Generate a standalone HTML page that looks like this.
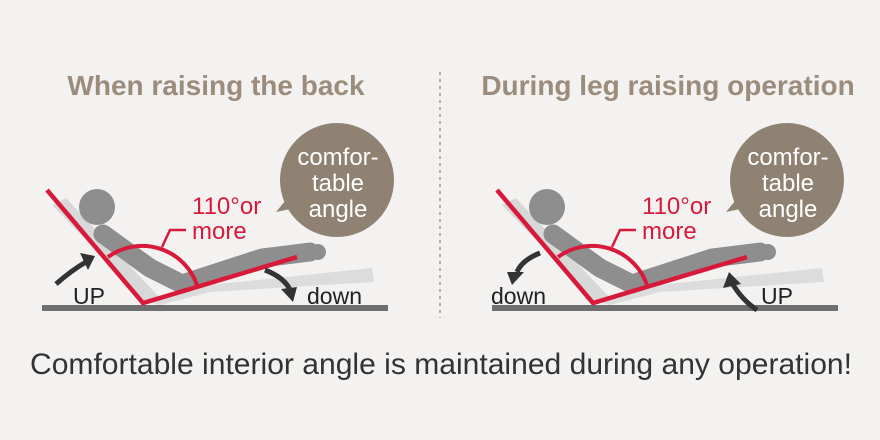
<!DOCTYPE html>
<html><head><meta charset="utf-8"><style>
html,body{margin:0;padding:0;background:#f3f2f1;}
svg{display:block;font-family:"Liberation Sans",Arial,sans-serif;}
</style></head><body>
<svg width="880" height="440" viewBox="0 0 880 440">
<rect width="880" height="440" fill="#f3f2f1"/>
<text x="216" y="95" font-size="28" font-weight="bold" fill="#9c8c7c" text-anchor="middle">When raising the back</text>
<text x="668" y="95" font-size="28" font-weight="bold" fill="#9c8c7c" text-anchor="middle">During leg raising operation</text>
<line x1="440" y1="72" x2="440" y2="318" stroke="#999" stroke-width="1.5" stroke-dasharray="3,4"/>
<defs>
<g id="fig">
  <rect x="42" y="305" width="346" height="6" fill="#6e6e6e"/>
  <polygon points="52,205 66,198 160,298 146,302" fill="#d8d8d8"/>
  <polygon points="150,302 200,286 372,268 374,282 210,292 160,305" fill="#dcdcdc"/>
  <circle cx="97" cy="207" r="18" fill="#8e8e8e"/>
  <path d="M103,234 L150,268 L182,284 L262,258 L310,252" fill="none" stroke="#8e8e8e" stroke-width="19" stroke-linecap="round" stroke-linejoin="round"/>
  <circle cx="318" cy="252" r="8" fill="#8e8e8e"/>
  <path d="M108,257 A58,58 0 0 1 197,285" fill="none" stroke="#d81a3a" stroke-width="4"/>
  <polyline points="162,247 170,230 186,230" fill="none" stroke="#d81a3a" stroke-width="2.5"/>
  <polyline points="47,190 143,303 297,257" fill="none" stroke="#d81a3a" stroke-width="4.5" stroke-linejoin="miter"/>
  <text x="192" y="214" font-size="24" fill="#d81a3a">110°or</text>
  <text x="192" y="239" font-size="24" fill="#d81a3a">more</text>
  <circle cx="337" cy="180" r="57" fill="#8f8272"/>
  <polygon points="290,195 276,212 300,207" fill="#8f8272"/>
  <text x="338" y="165" font-size="24" fill="#fff" text-anchor="middle">comfor-</text>
  <text x="338" y="191" font-size="24" fill="#fff" text-anchor="middle">table</text>
  <text x="338" y="217" font-size="24" fill="#fff" text-anchor="middle">angle</text>
</g>
</defs>
<use href="#fig"/>
<use href="#fig" transform="translate(450,0)"/>
<path d="M56,284 Q72,270 86,262" fill="none" stroke="#333" stroke-width="5"/>
<polygon points="80,253 95,256 88,270" fill="#333"/>
<text x="73" y="304" font-size="23" fill="#222">UP</text>
<path d="M265,270 Q285,278 290,290" fill="none" stroke="#333" stroke-width="5"/>
<polygon points="281,289 297,287 293,302" fill="#333"/>
<text x="307" y="304" font-size="23" fill="#222">down</text>
<path d="M540,253 Q522,260 517,272" fill="none" stroke="#333" stroke-width="5"/>
<polygon points="507,272 524,272 512,285" fill="#333"/>
<text x="491" y="304" font-size="23" fill="#222">down</text>
<path d="M757,310 Q742,300 732,283" fill="none" stroke="#333" stroke-width="5"/>
<polygon points="723,288 729,272 741,284" fill="#333"/>
<text x="761" y="304" font-size="23" fill="#222">UP</text>
<text x="441" y="374" font-size="30" fill="#333" text-anchor="middle" textLength="822" lengthAdjust="spacingAndGlyphs">Comfortable interior angle is maintained during any operation!</text>
</svg>
</body></html>
